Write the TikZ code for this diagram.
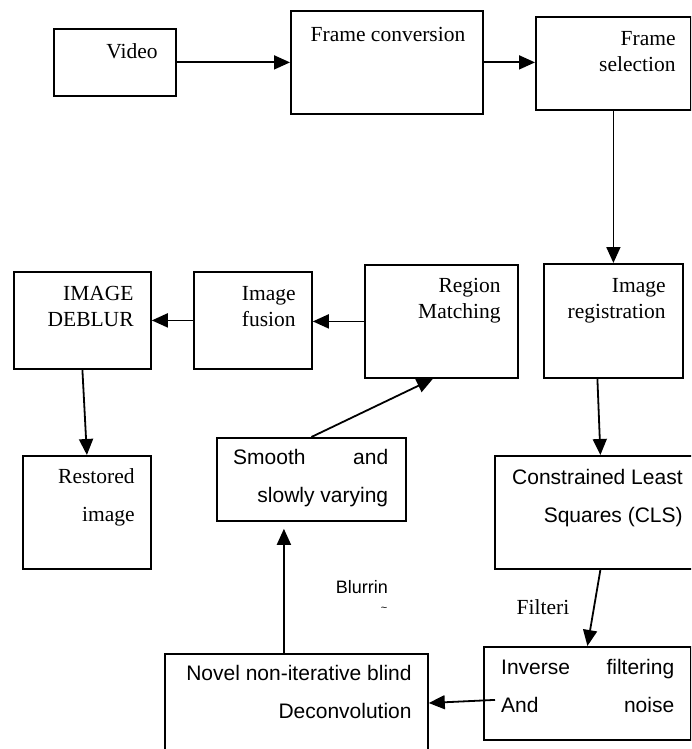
\documentclass[tikz,border=0pt]{standalone}
\usepackage{fontspec}
\setmainfont{Liberation Serif}
\setsansfont{Liberation Sans}
\usetikzlibrary{positioning,arrows.meta}

\begin{document}
\begin{tikzpicture}[
  x=1pt, y=-1pt,
  >={Triangle[length=16pt,width=14pt]},
  node distance=0pt,
  box/.style={
    draw,
    line width=1.8pt,
    inner sep=0pt,
    anchor=north west
  },
  serif/.style={
    inner sep=0pt,
    font=\fontsize{21.5}{26}\selectfont\rmfamily
  },
  sans/.style={
    inner sep=0pt,
    font=\fontsize{21}{38}\selectfont\sffamily
  },
  edge/.style={->, line width=1.8pt}
]
\useasboundingbox (0,0) rectangle (691,749);
\clip (0,0) rectangle (691,749);

% top row
\node[box, minimum width=122pt, minimum height=67pt] (video) at (53,28) {};
\node[box, minimum width=192pt, minimum height=103pt] (fconv) at (290,10) {};
\node[box, minimum width=155pt, minimum height=93pt] (fsel) at (535,16) {};
\node[serif] (video-t) at (132,51) {Video};
\node[serif] (fconv-t) at (388,34) {Frame conversion};
\node[serif, align=right, below left=15pt and 16pt of fsel.north east] (fsel-t) {Frame\\selection};

% middle row
\node[box, minimum width=137pt, minimum height=97pt] (deblur) at (13,271) {};
\node[box, minimum width=118pt, minimum height=97pt] (fusion) at (193,271) {};
\node[box, minimum width=153pt, minimum height=113pt] (match) at (364,264) {};
\node[box, minimum width=139pt, minimum height=114pt] (reg) at (543,263) {};
\node[serif, align=right, below left=15pt and 18pt of deblur.north east] (deblur-t) {IMAGE\\DEBLUR};
\node[serif, align=right, below left=15pt and 17pt of fusion.north east] (fusion-t) {Image\\fusion};
\node[serif, align=right, below left=14pt and 18pt of match.north east] (match-t) {Region\\Matching};
\node[serif, align=right, below left=15pt and 18pt of reg.north east] (reg-t) {Image\\registration};

% lower rows
\node[box, minimum width=128pt, minimum height=113pt] (restored) at (22,455) {};
\node[serif, align=right, below left=13pt and 17pt of restored.north east, font=\fontsize{21.5}{38}\selectfont\rmfamily] (restored-t) {Restored\\image};
\node[box, minimum width=189pt, minimum height=83pt] (smooth) at (216,437) {};
\node[sans, align=right, below right=12pt and 17pt of smooth.north west] (smooth-t)
  {\makebox[155pt][s]{Smooth and}\\slowly varying};
\node[box, minimum width=200pt, minimum height=113pt] (cls) at (494,455) {};
\node[sans, align=right, below right=14pt and 18pt of cls.north west] (cls-t) {Constrained Least\\Squares (CLS)};
\node[box, minimum width=207pt, minimum height=93pt] (inverse) at (483,646) {};
\node[sans, align=left, below right=13pt and 18pt of inverse.north west] (inverse-t)
  {\makebox[173pt][s]{Inverse filtering}\\\makebox[173pt][s]{And noise}};
\node[box, minimum width=263pt, minimum height=130pt] (novel) at (164,653) {};
\node[sans, align=right, below left=12pt and 17pt of novel.north east] (novel-t) {Novel non-iterative blind\\Deconvolution};

% free labels
\node[sans, font=\fontsize{18}{18}\selectfont\sffamily, anchor=east] (blur) at (388,587) {Blurrin};
\node[sans, font=\fontsize{11}{11}\selectfont\sffamily] (tilde) at (384,609) {\textasciitilde};
\node[serif] (filt) at (543,607) {Filteri};

% connectors
\draw[edge] (video.east) -- (fconv.west);
\draw[edge] (fconv.east) -- (fconv.east -| fsel.west);
\draw[edge] (fsel.south) -- (reg.north);
\draw[edge] ([xshift=-16pt]reg.south) -- ([xshift=5.5pt]cls.north);
\draw[edge] ([xshift=5.5pt]cls.south) -- (inverse.north);
\draw[edge] ([xshift=12pt,yshift=-6.5pt]inverse.west) -- ([yshift=-50pt]novel.north east);
\draw[edge, shorten >=7pt] ([xshift=-12.5pt]novel.north) -- ([xshift=-12.5pt]novel.north |- smooth.south);
\draw[edge] (smooth.north) -- ([xshift=-8.5pt]match.south);
\draw[edge] (match.west) -- (match.west -| fusion.east);
\draw[edge] (fusion.west) -- (deblur.east);
\draw[edge] (deblur.south) -- (restored.north);
\end{tikzpicture}
\end{document}
